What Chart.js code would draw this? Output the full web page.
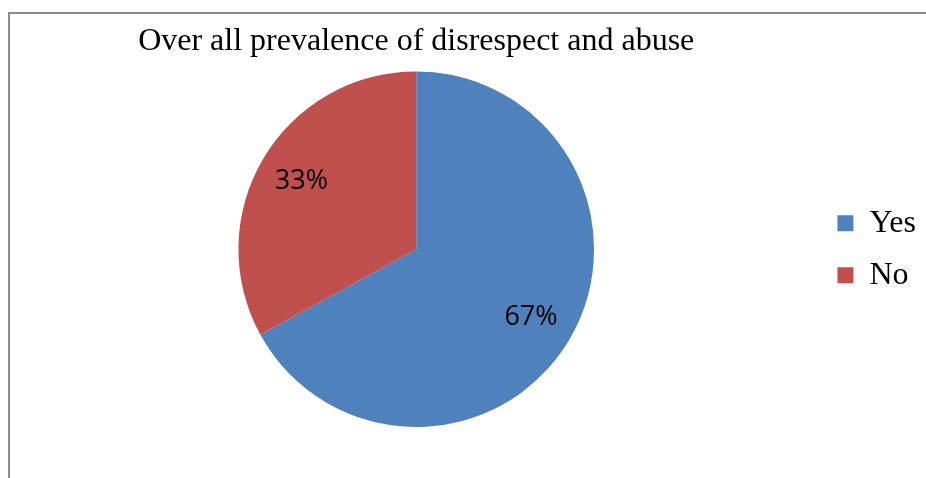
<!DOCTYPE html>
<html>
<head>
<meta charset="utf-8">
<script src="https://cdn.jsdelivr.net/npm/chart.js@4/dist/chart.umd.min.js"></script>
<style>
  html, body {
    margin: 0;
    padding: 0;
    background: #ffffff;
    overflow: hidden;
  }
  #wrap {
    position: relative;
    width: 926px;
    height: 478px;
  }
  #frame {
    position: absolute;
    left: 8px;
    top: 12px;
    width: 1000px;
    height: 1000px;
    border-top: 2px solid #8c8c8c;
    border-left: 2px solid #8c8c8c;
    pointer-events: none;
  }
</style>
</head>
<body>
<div id="wrap">
  <canvas id="chartPrevalensi" width="926" height="478"></canvas>
  <div id="frame"></div>
</div>
<script>

const judul = 'Over all prevalence of disrespect and abuse';

const kategori = ['Yes', 'No'];

const persen = [67, 33];

const warna = ['#4f81bd', '#c0504d'];

// label persen di tengah tiap irisan
const labelIrisan = {

  id: 'labelIrisan',

  afterDatasetsDraw(chart) {

    const ctx = chart.ctx;

    const meta = chart.getDatasetMeta(0);

    ctx.save();

    ctx.font = '27px "Open Sans", sans-serif';
    ctx.fillStyle = '#000000';
    ctx.textAlign = 'center';
    ctx.textBaseline = 'middle';

    meta.data.forEach((arc, i) => {

      const p = arc.getProps(
        ['x', 'y', 'startAngle', 'endAngle', 'outerRadius'],
        true
      );

      const sudut = (p.startAngle + p.endAngle) / 2;

      const jarak = p.outerRadius * 0.75;

      ctx.fillText(
        persen[i] + '%',
        p.x + Math.cos(sudut) * jarak,
        p.y + Math.sin(sudut) * jarak
      );
    });

    ctx.restore();
  }
};

const ctx =
  document
    .getElementById('chartPrevalensi')
    .getContext('2d');

const chart = new Chart(ctx, {

  type: 'pie',

  data: {

    labels: kategori,

    datasets: [
      {
        data: persen,
        backgroundColor: warna,
        borderWidth: 0
      }
    ]
  },

  options: {

    responsive: false,

    animation: false,

    layout: {

      padding: {
        left: 15,
        right: 0,
        top: 0,
        bottom: 51
      }
    },

    plugins: {

      title: {

        display: true,

        text: judul,

        fullSize: false,

        color: '#000000',

        font: {
          family: '"Liberation Serif", "Times New Roman", serif',
          size: 32,
          weight: 'normal'
        },

        padding: {
          top: 22,
          bottom: 11
        }
      },

      legend: {

        display: true,

        position: 'right',

        fullSize: false,

        labels: {

          color: '#000000',

          boxWidth: 16,

          boxHeight: 16,

          padding: 20,

          font: {
            family: '"Liberation Serif", "Times New Roman", serif',
            size: 32
          }
        }
      },

      tooltip: {

        enabled: false
      }
    }
  },

  plugins: [labelIrisan]
});
</script>
</body>
</html>
